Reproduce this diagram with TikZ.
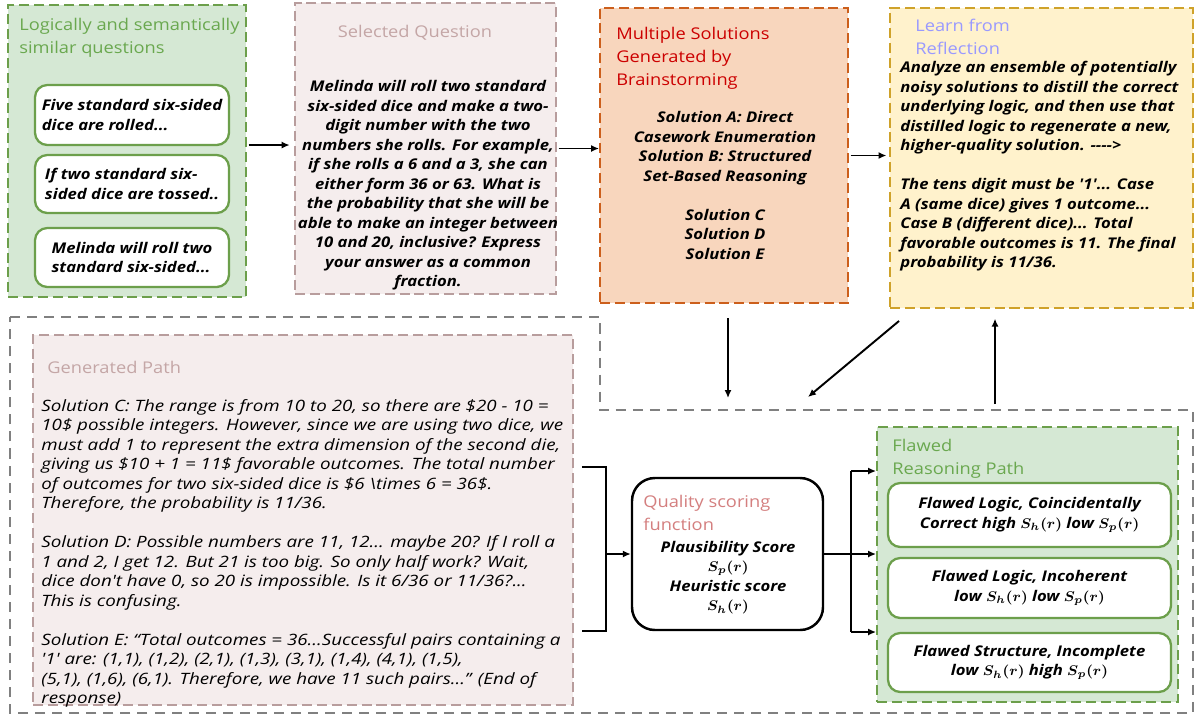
\documentclass[tikz,border=0pt]{standalone}
\usepackage{bm}
\usepackage{fontspec}
\setmainfont{Open Sans}[Ligatures=TeXOff, FakeStretch=1.13]
\newfontfamily\genfont{Open Sans}[Ligatures=TeXOff, FakeStretch=1.2]
\usetikzlibrary{arrows.meta,fit}

\definecolor{grfill}{HTML}{D5E8D4}
\definecolor{grline}{HTML}{6C9F4B}
\definecolor{grtext}{HTML}{6AA84F}
\definecolor{pkfill}{HTML}{F5EDED}
\definecolor{pkline}{HTML}{B89D9D}
\definecolor{pktext}{HTML}{C4A6A6}
\definecolor{orfill}{HTML}{F8D6BD}
\definecolor{orline}{HTML}{CC5F1C}
\definecolor{ortext}{HTML}{CC0000}
\definecolor{yefill}{HTML}{FFF2CC}
\definecolor{yeline}{HTML}{CFA22A}
\definecolor{yetext}{HTML}{9999FF}
\definecolor{qutext}{HTML}{D47F7F}
\definecolor{frline}{HTML}{808080}

\begin{document}
\begin{tikzpicture}[x=0.02cm, y=-0.02cm,
	box/.style={dash pattern=on 5.7pt off 2.8pt, line width=1.1pt, inner sep=0pt},
	gbox/.style={box, draw=grline, fill=grfill},
	pbox/.style={box, draw=pkline, fill=pkfill},
	obox/.style={box, draw=orline, fill=orfill},
	ybox/.style={box, draw=yeline, fill=yefill},
	inbox/.style={draw=grline, fill=white, line width=1.3pt, rounded corners=7pt, inner sep=0pt},
	qbox/.style={draw=black, fill=white, line width=1.4pt, rounded corners=13pt, inner sep=0pt},
	ttl/.style={inner sep=0pt, align=left, font=\fontsize{9.2}{13.1}\selectfont},
	txt/.style={inner sep=0pt, font=\fontsize{8.4}{11.1}\selectfont\bfseries\itshape},
	arr/.style={-{Latex[length=4.5pt,width=4pt]}, line width=1.1pt},
	link/.style={line width=1.1pt}]
	\useasboundingbox (0,0) rectangle (1196,718);

	\draw[frline, dash pattern=on 5.7pt off 4pt, line width=1.1pt] (10,317) -- (600,317) -- (600,410) -- (1193,410) -- (1193,713) -- (10,713) -- cycle;

	\node[gbox, fit={(8,5) (246,297)}] (simq) {};
	\node[ttl, anchor=west, text=grtext] (simqt) at (19,37.5) {Logically and semantically\\similar questions};
	\node[inbox, fit={(35,85) (229,145)}] (qa) {};
	\node[txt, align=left] (qat) at (qa.center) {Five standard six-sided\\dice are rolled...};
	\node[inbox, fit={(35,155) (229,213)}] (qb) {};
	\node[txt, align=left] (qbt) at (qb.center) {If two standard six-\\sided dice are tossed..};
	\node[inbox, fit={(35,228) (229,287)}] (qc) {};
	\node[txt, align=left] (qct) at (qc.center) {Melinda will roll two\\standard six-sided...};

	\node[pbox, fit={(295,3) (556,294)}] (sel) {};
	\node[ttl, text=pktext] (selt) at (415,33) {Selected Question};
	\node[txt, align=center] (selb) at (428,185.5) {Melinda will roll two standard\\six-sided dice and make a two-\\digit number with the two\\numbers she rolls. For example,\\if she rolls a 6 and a 3, she can\\either form 36 or 63. What is\\the probability that she will be\\able to make an integer between\\10 and 20, inclusive? Express\\your answer as a common\\fraction.};

	\node[obox, fit={(600,8) (848,303)}] (multi) {};
	\node[ttl, anchor=west, text=ortext] (multit) at (616,58.5) {Multiple Solutions\\Generated by\\Brainstorming};
	\node[txt, align=center] (multib) at (725,185.5) {Solution A: Direct\\Casework Enumeration\\Solution B: Structured\\Set-Based Reasoning\\[11.1pt]Solution C\\Solution D\\Solution E};

	\node[ybox, fit={(890,8) (1193,308)}] (refl) {};
	\node[ttl, anchor=west, text=yetext] (reflt) at (915,37) {Learn from\\Reflection};
	\node[txt, align=left, anchor=west] (reflb) at (900,166.5) {Analyze an ensemble of potentially\\noisy solutions to distill the correct\\underlying logic, and then use that\\distilled logic to regenerate a new,\\higher-quality solution. ---->\\[11.1pt]The tens digit must be '1'... Case\\A (same dice) gives 1 outcome...\\Case B (different dice)... Total\\favorable outcomes is 11. The final\\probability is 11/36.};

	\node[pbox, fit={(33,335) (573,705)}] (gen) {};
	\node[ttl, anchor=west, text=pktext] (gent) at (47,367) {Generated Path};
	\node[inner sep=0pt, align=left, anchor=west, font=\genfont\fontsize{8.9}{11.1}\selectfont\itshape] (genb) at (41,553.5) {Solution C: The range is from 10 to 20, so there are \$20 - 10 =\\10\$ possible integers. However, since we are using two dice, we\\must add 1 to represent the extra dimension of the second die,\\giving us \$10 + 1 = 11\$ favorable outcomes. The total number\\of outcomes for two six-sided dice is \$6 \textbackslash times 6 = 36\$.\\Therefore, the probability is 11/36.\\[11.1pt]Solution D: Possible numbers are 11, 12... maybe 20? If I roll a\\1 and 2, I get 12. But 21 is too big. So only half work? Wait,\\dice don't have 0, so 20 is impossible. Is it 6/36 or 11/36?...\\This is confusing.\\[11.1pt]Solution E: “Total outcomes = 36…Successful pairs containing a\\'1' are: (1,1), (1,2), (2,1), (1,3), (3,1), (1,4), (4,1), (1,5),\\(5,1), (1,6), (6,1). Therefore, we have 11 such pairs...” (End of\\response)};

	\node[qbox, fit={(632,478) (823,630)}] (qual) {};
	\node[ttl, anchor=west, text=qutext] (qualt) at (643,513) {Quality scoring\\function};
	\node[txt, align=center] (qualb) at (728,577.5) {Plausibility Score\\$\bm{S_p(r)}$\\Heuristic score\\$\bm{S_h(r)}$};

	\node[gbox, fit={(877,427) (1178,702)}] (flaw) {};
	\node[ttl, anchor=west, text=grtext] (flawt) at (892,459) {Flawed\\Reasoning Path};
	\node[inbox, fit={(888,483) (1171,547)}] (fa) {};
	\node[txt, align=center] (fat) at (fa.center) {Flawed Logic, Coincidentally\\Correct high $\bm{S_h(r)}$ low $\bm{S_p(r)}$};
	\node[inbox, fit={(888,558) (1171,618)}] (fb) {};
	\node[txt, align=center] (fbt) at (fb.center) {Flawed Logic, Incoherent\\low $\bm{S_h(r)}$ low $\bm{S_p(r)}$};
	\node[inbox, fit={(888,633) (1171,692)}] (fc) {};
	\node[txt, align=center] (fct) at (fc.center) {Flawed Structure, Incomplete\\low $\bm{S_h(r)}$ high $\bm{S_p(r)}$};

	\coordinate (d1) at (728,398);
	\coordinate (d2) at (808,397);
	\coordinate (u1) at (995,404);
	\coordinate (b1) at (606,467);
	\coordinate (b2) at (606,631);
	\coordinate (c1) at (851,471);
	\coordinate (c2) at (851,632);

	\draw[arr, shorten <=1pt, shorten >=2.5pt] ([yshift=3.4pt]simq.east) -- ([yshift=3.4pt]simq.east -| sel.west);
	\draw[arr, shorten <=1pt] (sel.east) -- (sel.east -| multi.west);
	\draw[arr, shorten <=1pt, shorten >=1.5pt] (multi.east) -- (multi.east -| refl.west);
	\draw[arr, shorten <=8pt] (multi.south -| d1) -- (d1);
	\draw[arr] ([shift={(10,12)}]refl.south west) -- (d2);
	\draw[arr, shorten >=5.5pt] (u1) -- (u1 |- refl.south);

	\draw[link, shorten <=4.5pt, shorten >=4.5pt] (b1 -| gen.east) -- (b1) -- (b2) -- (b2 -| gen.east);
	\draw[arr] (qual.west -| b1) -- (qual.west);
	\draw[link] (c1) -- (c2);
	\draw[arr] (qual.east) -- (qual.east -| flaw.west);
	\draw[arr] (c1) -- (c1 -| flaw.west);
	\draw[arr] (c2) -- (c2 -| flaw.west);
\end{tikzpicture}
\end{document}
